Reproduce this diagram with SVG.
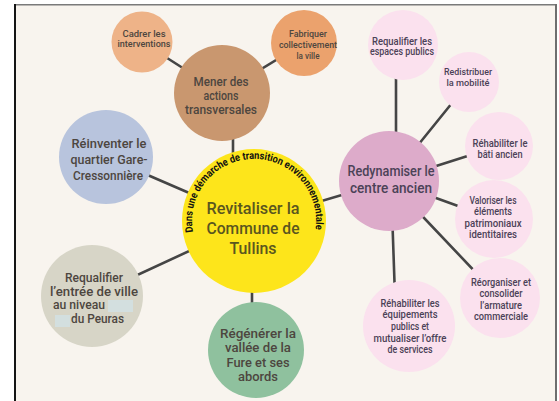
<svg xmlns="http://www.w3.org/2000/svg" width="559" height="401" viewBox="0 0 559 401">
<style>
text{font-family:"Roboto","Liberation Sans",sans-serif;text-anchor:middle;font-weight:500}
.c{stroke:#454545;stroke-width:2.6;fill:none;stroke-linecap:round}
.t{fill:#4d463f}
.p{fill:#4b4257}
.s9{font-size:9.5px}
.s10{font-size:10px}
.s13{font-size:13px}
.s12{font-size:12.4px}
.s14{font-size:13.6px}
.s16{font-size:15.5px}
.big{font-size:17px;fill:#5a561f}
</style>
<defs>
<path id="arc" d="M 193,232 A 62 62 0 1 1 315,232"/>
</defs>
<rect x="15" y="5" width="541" height="396" fill="#f8f4ee"/>
<line x1="14" y1="4.7" x2="557" y2="4.7" stroke="#7a7a7a" stroke-width="1.6"/>
<line x1="15" y1="4" x2="15" y2="401" stroke="#151515" stroke-width="2"/>
<line x1="556" y1="4" x2="556" y2="401" stroke="#6e6e6e" stroke-width="2"/>

<g id="connectors">
<line class="c" x1="222" y1="93" x2="142" y2="42"/>
<line class="c" x1="222" y1="93" x2="304" y2="43"/>
<line class="c" x1="233" y1="120" x2="233" y2="170"/>
<line class="c" x1="106" y1="157" x2="254" y2="221"/>
<line class="c" x1="92" y1="296" x2="254" y2="221"/>
<line class="c" x1="252" y1="260" x2="252" y2="320"/>
<line class="c" x1="254" y1="221" x2="389" y2="181"/>
<line class="c" x1="396" y1="45" x2="396" y2="181"/>
<line class="c" x1="389" y1="181" x2="469" y2="82"/>
<line class="c" x1="389" y1="181" x2="499" y2="146"/>
<line class="c" x1="389" y1="181" x2="494" y2="219"/>
<line class="c" x1="389" y1="181" x2="500" y2="298"/>
<line class="c" x1="391" y1="181" x2="396" y2="326"/>
</g>

<g id="cadrer">
<circle cx="142" cy="42" r="30.5" fill="#eeb388"/>
<text class="t s9" x="144" y="37" textLength="43" lengthAdjust="spacingAndGlyphs">Cadrer les</text>
<text class="t s9" x="144" y="47" textLength="53" lengthAdjust="spacingAndGlyphs">interventions</text>
</g>
<g id="fabriquer">
<circle cx="304" cy="43" r="33" fill="#eba26d"/>
<text class="t s9" x="308" y="37" textLength="38" lengthAdjust="spacingAndGlyphs">Fabriquer</text>
<text class="t s9" x="308" y="48" textLength="58" lengthAdjust="spacingAndGlyphs">collectivement</text>
<text class="t s9" x="308" y="58.5" textLength="23" lengthAdjust="spacingAndGlyphs">la ville</text>
</g>
<g id="mener">
<circle cx="222" cy="93" r="48" fill="#c9976f"/>
<text class="t s12" x="221" y="85.5" textLength="55" lengthAdjust="spacingAndGlyphs">Mener des</text>
<text class="t s12" x="221" y="99.5" textLength="35" lengthAdjust="spacingAndGlyphs">actions</text>
<text class="t s12" x="221" y="113.5" textLength="72" lengthAdjust="spacingAndGlyphs">transversales</text>
</g>
<g id="reinventer">
<circle cx="106" cy="157" r="47" fill="#b8c4dd"/>
<text class="t s14" x="109" y="148" textLength="75" lengthAdjust="spacingAndGlyphs">Réinventer le</text>
<text class="t s14" x="109" y="164" textLength="77" lengthAdjust="spacingAndGlyphs">quartier Gare-</text>
<text class="t s14" x="108" y="180" textLength="70" lengthAdjust="spacingAndGlyphs">Cressonnière</text>
</g>
<g id="requalifier-entree">
<circle cx="92" cy="296" r="51" fill="#d7d5c7"/>
<text class="t s13" x="94" y="282" textLength="58" lengthAdjust="spacingAndGlyphs">Requalifier</text>
<text class="t s13" x="94" y="295.5" textLength="88" lengthAdjust="spacingAndGlyphs">l’entrée de ville</text>
<text class="t s13" x="79" y="309" textLength="52" lengthAdjust="spacingAndGlyphs">au niveau</text>
<rect x="108" y="300" width="25" height="12" fill="#d3dfdf"/>
<rect x="55" y="315" width="15" height="12" fill="#d3dfdf"/>
<text class="t s13" x="97.5" y="323" textLength="53" lengthAdjust="spacingAndGlyphs">du Peuras</text>
</g>
<g id="regenerer">
<circle cx="256" cy="350" r="48" fill="#8fc19e"/>
<text class="t s12" x="258" y="337.5" textLength="76" lengthAdjust="spacingAndGlyphs">Régénérer la</text>
<text class="t s12" x="258" y="352" textLength="66" lengthAdjust="spacingAndGlyphs">vallée de la</text>
<text class="t s12" x="258" y="366.5" textLength="63" lengthAdjust="spacingAndGlyphs">Fure et ses</text>
<text class="t s12" x="258" y="381" textLength="40" lengthAdjust="spacingAndGlyphs">abords</text>
</g>
<g id="centre">
<circle cx="254" cy="221" r="72" fill="#fde51b"/>
<text style="font-size:10.5px;font-weight:bold;fill:#111;text-anchor:start"><textPath href="#arc" textLength="214" lengthAdjust="spacingAndGlyphs">Dans une démarche de transition environnementale</textPath></text>
<text class="big" x="253" y="214" textLength="93" lengthAdjust="spacingAndGlyphs">Revitaliser la</text>
<text class="big" x="253" y="234" textLength="93" lengthAdjust="spacingAndGlyphs">Commune de</text>
<text class="big" x="253" y="254" textLength="47" lengthAdjust="spacingAndGlyphs">Tullins</text>
</g>
<g id="redynamiser">
<circle cx="389" cy="181" r="50" fill="#ddabca"/>
<text class="p s16" x="391" y="176" textLength="87" lengthAdjust="spacingAndGlyphs">Redynamiser le</text>
<text class="p s16" x="391" y="193" textLength="82" lengthAdjust="spacingAndGlyphs">centre ancien</text>
</g>
<g id="espaces">
<circle cx="403" cy="45" r="35" fill="#fbe1ee"/>
<text class="p s10" x="402" y="45" textLength="60" lengthAdjust="spacingAndGlyphs">Requalifier les</text>
<text class="p s10" x="402" y="55" textLength="64" lengthAdjust="spacingAndGlyphs">espaces publics</text>
</g>
<g id="mobilite">
<circle cx="469" cy="82" r="30" fill="#fbe1ee"/>
<text class="p s9" x="468" y="75" textLength="48" lengthAdjust="spacingAndGlyphs">Redistribuer</text>
<text class="p s9" x="468" y="86" textLength="43" lengthAdjust="spacingAndGlyphs">la mobilité</text>
</g>
<g id="bati">
<circle cx="499" cy="146" r="34" fill="#fbe1ee"/>
<text class="p s10" x="500" y="147" textLength="55" lengthAdjust="spacingAndGlyphs">Réhabiliter le</text>
<text class="p s10" x="500" y="158" textLength="45" lengthAdjust="spacingAndGlyphs">bâti ancien</text>
</g>
<g id="valoriser">
<circle cx="494" cy="219" r="39" fill="#fbe1ee"/>
<text class="p s10" x="493" y="204" textLength="47" lengthAdjust="spacingAndGlyphs">Valoriser les</text>
<text class="p s10" x="493" y="215" textLength="38" lengthAdjust="spacingAndGlyphs">éléments</text>
<text class="p s10" x="493" y="227" textLength="57" lengthAdjust="spacingAndGlyphs">patrimoniaux</text>
<text class="p s10" x="493" y="238" textLength="48" lengthAdjust="spacingAndGlyphs">identitaires</text>
</g>
<g id="reorganiser">
<circle cx="500" cy="298" r="40" fill="#fbe1ee"/>
<text class="p s10" x="501" y="286" textLength="60" lengthAdjust="spacingAndGlyphs">Réorganiser et</text>
<text class="p s10" x="501" y="297" textLength="43" lengthAdjust="spacingAndGlyphs">consolider</text>
<text class="p s10" x="501" y="309" textLength="42" lengthAdjust="spacingAndGlyphs">l’armature</text>
<text class="p s10" x="501" y="320" textLength="54" lengthAdjust="spacingAndGlyphs">commerciale</text>
</g>
<g id="equipements">
<circle cx="409" cy="326" r="46" fill="#fbe1ee"/>
<text class="p s10" x="410" y="307" textLength="59" lengthAdjust="spacingAndGlyphs">Réhabiliter les</text>
<text class="p s10" x="410" y="318" textLength="55" lengthAdjust="spacingAndGlyphs">équipements</text>
<text class="p s10" x="410" y="330" textLength="38" lengthAdjust="spacingAndGlyphs">publics et</text>
<text class="p s10" x="410" y="342" textLength="73" lengthAdjust="spacingAndGlyphs">mutualiser l’offre</text>
<text class="p s10" x="410" y="353" textLength="45" lengthAdjust="spacingAndGlyphs">de services</text>
</g>
</svg>
